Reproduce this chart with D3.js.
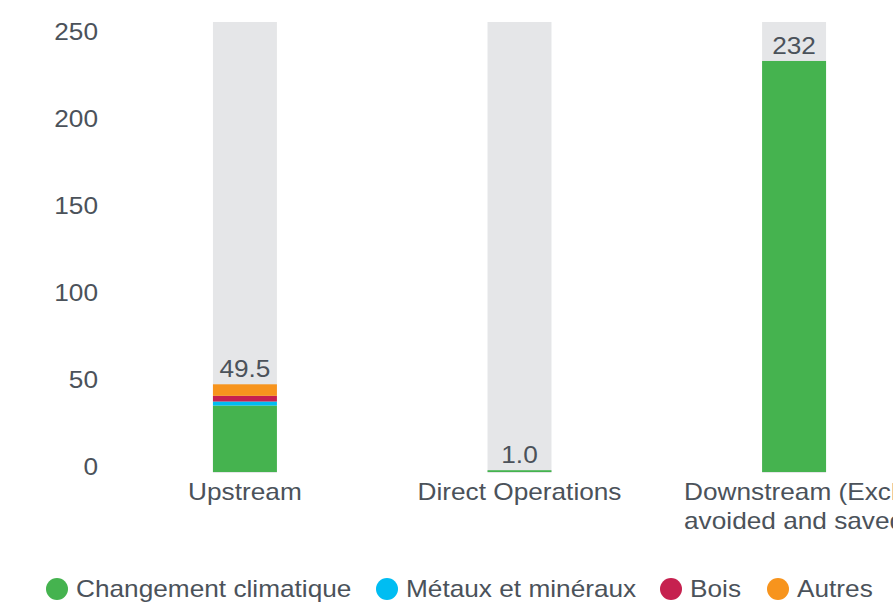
<!DOCTYPE html>
<html>
<head>
<meta charset="utf-8">
<script src="https://cdn.jsdelivr.net/npm/d3@7"></script>
<style>
  body { margin: 0; background: #fff; }
  svg { display: block; font-family: "Liberation Sans", Arial, sans-serif; }
</style>
</head>
<body>
<svg></svg>
<script>
var width = 893,
    height = 603;

// data
var categories = ["Upstream", "Direct Operations", "Downstream (Excl. avoided and saved"];
var categoryLines = [["Upstream"], ["Direct Operations"], ["Downstream (Excl.", "avoided and saved"]];
var seriesNames = ["Changement climatique", "Métaux et minéraux", "Bois", "Autres"];
var seriesColors = ["#45b34f", "#00bdf2", "#c6214f", "#f7941d"];
var climat = [37.5, 1.0, 232];
var metaux = [2.3, 0, 0];
var bois = [3.2, 0, 0];
var autres = [6.5, 0, 0];
var totals = ["49.5", "1.0", "232"];
var yTicks = [0, 50, 100, 150, 200, 250];
var yMax = 254;

var textColor = "#4b525a";
var stretch = 1.14; // original font is a bit wider than Liberation Sans

var svg = d3.select("svg")
    .attr("width", width)
    .attr("height", height);

var x = d3.scaleBand()
    .domain(categories)
    .range([107.5, 931.5])
    .paddingInner(0.767)
    .paddingOuter(0.384);

var y = d3.scaleLinear()
    .domain([0, yMax])
    .range([472, 22]);

// axis labels sit slightly off the bar scale in the original
var yAxisScale = d3.scaleLinear()
    .domain([0, 250])
    .range([467, 32]);

var rows = categories.map(function (c, i) {
    return { cat: c, climat: climat[i], metaux: metaux[i], bois: bois[i], autres: autres[i] };
});
var stack = d3.stack().keys(["climat", "metaux", "bois", "autres"])(rows);

function place(px, py) {
    return "translate(" + px + "," + py + ") scale(" + stretch + ",1)";
}

// background bars
svg.append("g")
    .selectAll("rect")
    .data(categories)
    .enter()
    .append("rect")
    .attr("x", function (d) { return x(d); })
    .attr("width", x.bandwidth())
    .attr("y", y(yMax))
    .attr("height", y(0) - y(yMax) + 1)
    .attr("fill", "#e5e6e8");

// stacked series
svg.append("g")
    .selectAll("g")
    .data(stack)
    .enter()
    .append("g")
    .attr("fill", function (d, i) { return seriesColors[i]; })
    .selectAll("rect")
    .data(function (d) { return d; })
    .enter()
    .append("rect")
    .attr("x", function (d) { return x(d.data.cat); })
    .attr("width", x.bandwidth())
    .attr("y", function (d) { return y(d[1]); })
    .attr("height", function (d) { return y(d[0]) - y(d[1]); });

// totals
svg.append("g")
    .selectAll("text")
    .data(categories)
    .enter()
    .append("text")
    .attr("transform", function (d, i) {
        return place(x(d) + x.bandwidth() / 2, y(climat[i] + metaux[i] + bois[i] + autres[i]) - 7);
    })
    .attr("text-anchor", "middle")
    .attr("font-size", 23)
    .attr("fill", textColor)
    .text(function (d, i) { return totals[i]; });

// y axis
var yAxis = svg.append("g")
    .attr("transform", "translate(98,0)")
    .call(d3.axisLeft(yAxisScale).tickValues(yTicks).tickSize(0).tickPadding(0));
yAxis.select(".domain").remove();
yAxis.selectAll("text")
    .attr("font-size", 23)
    .attr("font-family", "Liberation Sans, Arial, sans-serif")
    .attr("fill", textColor)
    .attr("transform", "scale(" + stretch + ",1)");

// category labels
var catLabels = svg.append("g")
    .selectAll("text")
    .data(categories)
    .enter()
    .append("text")
    .attr("transform", function (d) { return place(x(d) + x.bandwidth() / 2, 500); })
    .attr("text-anchor", "middle")
    .attr("font-size", 23)
    .attr("fill", textColor);
catLabels.selectAll("tspan")
    .data(function (d, i) { return categoryLines[i]; })
    .enter()
    .append("tspan")
    .attr("x", 0)
    .attr("dy", function (d, i) { return i === 0 ? 0 : 29; })
    .text(function (d) { return d; });

// legend
var legendX = [57, 387, 671, 778];
var legend = svg.append("g")
    .selectAll("g")
    .data(seriesNames)
    .enter()
    .append("g")
    .attr("transform", function (d, i) { return "translate(" + legendX[i] + ",589)"; });
legend.append("circle")
    .attr("r", 11)
    .attr("fill", function (d, i) { return seriesColors[i]; });
legend.append("text")
    .attr("transform", place(19, 0))
    .attr("dy", "0.35em")
    .attr("font-size", 23)
    .attr("fill", textColor)
    .text(function (d) { return d; });
</script>
</body>
</html>
